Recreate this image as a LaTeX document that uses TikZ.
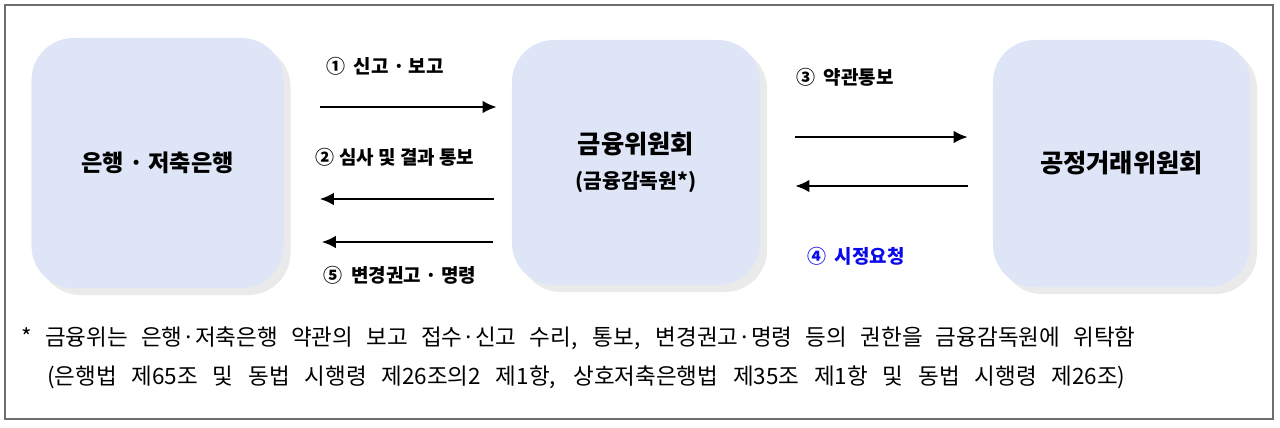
\documentclass[tikz,border=0pt]{standalone}
\usepackage{fontspec}
\setmainfont{Noto Sans CJK KR}
\usetikzlibrary{arrows.meta, shadows}
\definecolor{boxfill}{RGB}{222,229,246}
\definecolor{shadowgrey}{RGB}{234,234,234}
\definecolor{framegrey}{RGB}{110,110,110}
\definecolor{reqblue}{RGB}{10,10,235}
\tikzset{
  organ/.style={rectangle, rounded corners=30pt, fill=boxfill, font=\bfseries\fontsize{18}{22}\selectfont,
    align=center, inner sep=0pt,
    drop shadow={shadow xshift=5pt, shadow yshift=-5pt, fill=shadowgrey, opacity=1}},
  arr/.style={-{Latex[length=10pt,width=9pt]}, line width=1.5pt},
  steplabel/.style={font=\bfseries\fontsize{13.5}{16}\selectfont, inner sep=0pt},
  note/.style={font=\fontsize{16}{19}\selectfont, anchor=west, inner sep=0pt}
}
\begin{document}
\begin{tikzpicture}[x=0.025cm, y=-0.025cm]
\useasboundingbox (0,0) rectangle (1280,427);
\draw[framegrey, line width=0.9pt] (5,5) rectangle (1273,419);
% three organisations
\node[organ, minimum width=6.3cm, minimum height=6.25cm, font=\bfseries\fontsize{16.5}{20}\selectfont] (bank) at (157.5,163) {은행 · 저축은행};
\node[organ, minimum width=6.2cm, minimum height=6.125cm] (fsc) at (636,162.5)
  {금융위원회\\[3pt]{\fontsize{14.5}{17}\selectfont(금융감독원*)}};
\node[organ, minimum width=6.425cm, minimum height=6.175cm] (ftc) at (1121.5,163.5) {공정거래위원회};
% arrows between them
\draw[arr, shorten <=25.6pt, shorten >=10.7pt] (bank.east |- 0,107) -- (fsc.west |- 0,107);
\draw[arr, shorten <=12.8pt, shorten >=25.6pt] (fsc.west |- 0,199) -- (bank.east |- 0,199);
\draw[arr, shorten <=13.5pt, shorten >=27pt] (fsc.west |- 0,242) -- (bank.east |- 0,242);
\draw[arr, shorten <=24.9pt, shorten >=17.8pt] (fsc.east |- 0,137) -- (ftc.west |- 0,137);
\draw[arr, shorten <=17.8pt, shorten >=24.9pt] (ftc.west |- 0,186) -- (fsc.east |- 0,186);
% step labels
\node[steplabel] (s1) at (385,66) {① \ 신고 · 보고};
\node[steplabel] (s2) at (395,157) {② 심사 및 결과 통보};
\node[steplabel] (s5) at (400,275) {⑤ \ 변경권고 · 명령};
\node[steplabel] (s3) at (845,77) {③ \ 약관통보};
\node[steplabel, text=reqblue] (s4) at (856,256) {④ \ 시정요청};
% footnote
\node[note] (n1) at (21,338) {\makebox[27.85cm][s]{* 금융위는 은행·저축은행 약관의 보고 접수·신고 수리, 통보, 변경권고·명령 등의 권한을 금융감독원에 위탁함}};
\node[note] (n2) at (47,377) {\makebox[26.95cm][s]{(은행법 제65조 및 동법 시행령 제26조의2 제1항, 상호저축은행법 제35조 제1항 및 동법 시행령 제26조)}};
\end{tikzpicture}
\end{document}
